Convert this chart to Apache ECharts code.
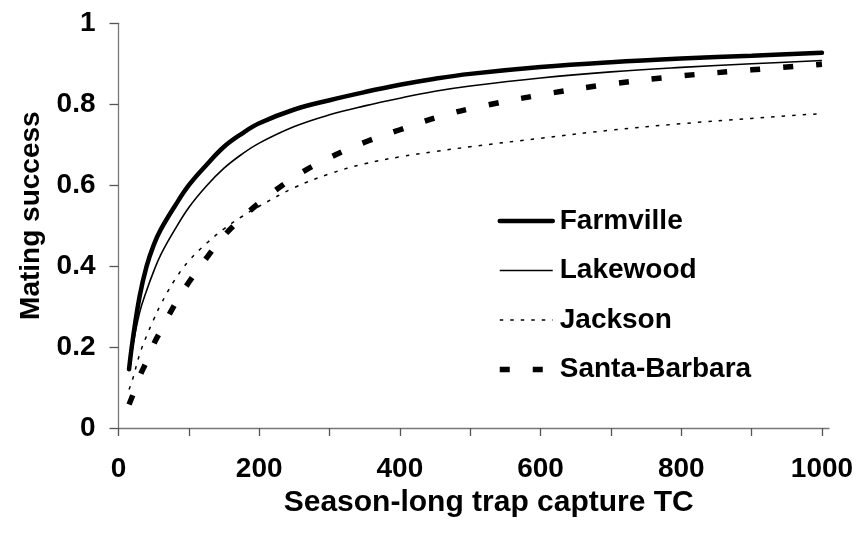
<!DOCTYPE html>
<html>
<head>
<meta charset="utf-8">
<script src="https://cdn.jsdelivr.net/npm/echarts@6/dist/echarts.min.js"></script>
<style>html,body{margin:0;padding:0;background:#fff}#c{width:862px;height:541px}</style>
</head>
<body>
<div id="c"></div>
<script>
var xValues = [15, 20, 30, 40, 50, 60, 80, 100, 125, 150, 175, 200, 250, 300, 350, 400, 450, 500, 600, 700, 800, 900, 1000];
var farmville = [0.145, 0.215, 0.325, 0.40, 0.452, 0.49, 0.548, 0.60, 0.65, 0.695, 0.727, 0.753, 0.787, 0.81, 0.83, 0.848, 0.863, 0.875, 0.892, 0.904, 0.913, 0.92, 0.927];
var lakewood = [0.145, 0.20, 0.285, 0.34, 0.387, 0.428, 0.49, 0.545, 0.598, 0.642, 0.676, 0.704, 0.745, 0.774, 0.796, 0.815, 0.832, 0.845, 0.865, 0.88, 0.891, 0.90, 0.908];
var jackson = [0.095, 0.12, 0.182, 0.228, 0.268, 0.305, 0.366, 0.413, 0.456, 0.492, 0.522, 0.548, 0.594, 0.628, 0.653, 0.67, 0.683, 0.695, 0.716, 0.736, 0.752, 0.765, 0.777];
var santaBarbara = [0.058, 0.08, 0.127, 0.165, 0.207, 0.24, 0.305, 0.36, 0.42, 0.475, 0.518, 0.556, 0.62, 0.668, 0.706, 0.737, 0.766, 0.789, 0.823, 0.85, 0.87, 0.885, 0.899];
var seriesNames = ['Farmville', 'Lakewood', 'Jackson', 'Santa-Barbara'];
var xTickValues = [0, 100, 200, 300, 400, 500, 600, 700, 800, 900, 1000];
var xLabelValues = [0, 200, 400, 600, 800, 1000];

function pairs(ys) { return xValues.map(function (x, i) { return [x, ys[i]]; }); }

var FONT = '"Liberation Sans", Arial, sans-serif';
var styles = [
  { color: '#000', width: 4.5, type: 'solid', cap: 'round' },
  { color: '#000', width: 1.6, type: 'solid' },
  { color: '#000', width: 1.5, type: [3.5, 7] },
  { color: '#000', width: 5.5, type: [10, 23] }
];
var chart = echarts.init(document.getElementById('c'), null, { renderer: 'canvas' });
chart.setOption({
  animation: false,
  backgroundColor: '#ffffff',
  grid: { left: 118.5, top: 23.3, right: 33, bottom: 113, containLabel: false },
  xAxis: {
    type: 'value', min: 0, max: 1010,
    name: 'Season-long trap capture TC', nameLocation: 'middle', nameGap: 54,
    nameTextStyle: { fontFamily: FONT, fontWeight: 'bold', fontSize: 30, color: '#000', padding: [0, 0, 0, 30] },
    axisLine: { show: true, onZero: false, lineStyle: { color: '#777', width: 1.3 } },
    axisTick: { show: true, length: 8, customValues: xTickValues, lineStyle: { color: '#555', width: 1.3 } },
    axisLabel: { customValues: xLabelValues, margin: 27, fontFamily: FONT, fontWeight: 'bold', fontSize: 28, color: '#000',
      formatter: function (v) { return String(v); } },
    splitLine: { show: false }
  },
  yAxis: {
    type: 'value', min: 0, max: 1, interval: 0.2,
    name: 'Mating success', nameLocation: 'middle', nameGap: 71, nameRotate: 90,
    nameTextStyle: { fontFamily: FONT, fontWeight: 'bold', fontSize: 28, color: '#000', padding: [0, 0, 0, 20] },
    axisLine: { show: true, lineStyle: { color: '#777', width: 1.3 } },
    axisTick: { show: true, length: 9, lineStyle: { color: '#555', width: 1.3 } },
    axisLabel: { margin: 23, fontFamily: FONT, fontWeight: 'bold', fontSize: 28, color: '#000',
      formatter: function (v) { return String(v); } },
    splitLine: { show: false }
  },
  legend: {
    orient: 'vertical', left: 492, top: 202, itemWidth: 53, itemHeight: 14, itemGap: 21.5,
    itemStyle: { opacity: 0 },
    data: seriesNames.map(function (n, i) {
      return { name: n, lineStyle: { width: styles[i].width, type: styles[i].type, color: '#000' }, itemStyle: { opacity: 0 } };
    }),
    textStyle: { fontFamily: FONT, fontWeight: 'bold', fontSize: 28, color: '#000', padding: [0, 0, 0, 2] }
  },
  series: [farmville, lakewood, jackson, santaBarbara].map(function (ys, i) {
    return { name: seriesNames[i], type: 'line', data: pairs(ys), smooth: 0.4, showSymbol: false, symbol: 'none',
      lineStyle: styles[i], itemStyle: { color: '#000' } };
  })
});
</script>
</body>
</html>
